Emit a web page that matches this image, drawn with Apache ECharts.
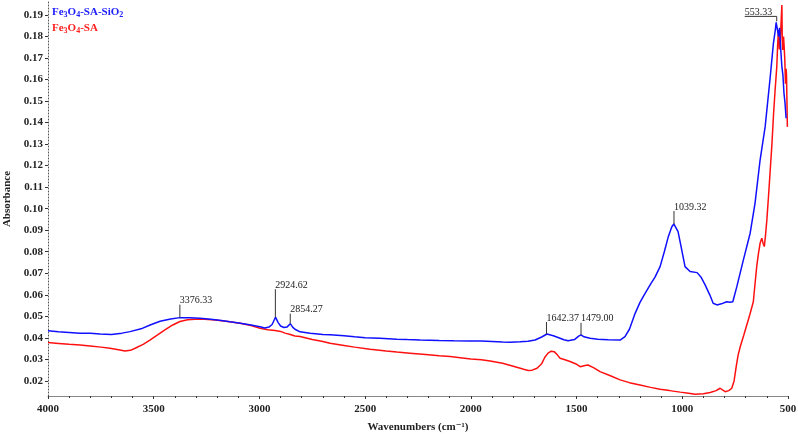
<!DOCTYPE html>
<html><head><meta charset="utf-8">
<script src="https://cdn.jsdelivr.net/npm/echarts@6/dist/echarts.min.js"></script>
<style>html,body{margin:0;padding:0;background:#fff}#c{width:798px;height:435px}</style>
</head><body><div id="c"></div>
<script>
const yTicks = [0.02,0.03,0.04,0.05,0.06,0.07,0.08,0.09,0.10,0.11,0.12,0.13,0.14,0.15,0.16,0.17,0.18,0.19];
const xTicks = [4000,3500,3000,2500,2000,1500,1000,500];

const blueSpectrum = [[4000,0.0433],[3950,0.0428],[3900,0.0425],[3850,0.0422],[3800,0.0421],[3754,0.0418],[3700,0.0416],[3650,0.0422],[3612,0.0429],[3560,0.0442],[3517,0.0460],[3470,0.0477],[3420,0.0488],[3376,0.0494],[3330,0.0494],[3281,0.0491],[3230,0.0487],[3180,0.0481],[3139,0.0475],[3090,0.0468],[3040,0.0460],[2997,0.0452],[2975,0.0446],[2955,0.0450],[2940,0.0462],[2924,0.0496],[2912,0.0472],[2900,0.0455],[2884,0.0448],[2870,0.0450],[2854,0.0466],[2843,0.0450],[2832,0.0440],[2808,0.0428],[2760,0.0422],[2700,0.0416],[2666,0.0414],[2600,0.0410],[2550,0.0405],[2500,0.0401],[2430,0.0398],[2350,0.0394],[2300,0.0392],[2240,0.0390],[2150,0.0388],[2080,0.0387],[2004,0.0386],[1950,0.0385],[1900,0.0383],[1850,0.0381],[1815,0.0380],[1767,0.0382],[1730,0.0384],[1696,0.0390],[1665,0.0404],[1640,0.0418],[1610,0.0410],[1578,0.0398],[1560,0.0391],[1540,0.0387],[1510,0.0392],[1490,0.0408],[1479,0.0414],[1465,0.0405],[1436,0.0398],[1400,0.0394],[1350,0.0391],[1294,0.0390],[1271,0.0406],[1250,0.0440],[1223,0.0514],[1200,0.0565],[1176,0.0607],[1150,0.0650],[1129,0.0682],[1105,0.0731],[1085,0.0800],[1067,0.0867],[1050,0.0915],[1040,0.0929],[1020,0.0893],[1005,0.0820],[987,0.0731],[963,0.0708],[930,0.0703],[910,0.0680],[892,0.0646],[870,0.0600],[854,0.0561],[836,0.0553],[815,0.0558],[790,0.0568],[775,0.0565],[761,0.0568],[742,0.0638],[711,0.0762],[679,0.0886],[656,0.1025],[632,0.1226],[608,0.1381],[584,0.1613],[569,0.1768],[560,0.1830],[556,0.1865],[553,0.1870],[548,0.1820],[545,0.1800],[540,0.1840],[535,0.1750],[529,0.1660],[524,0.1620],[519,0.1536],[514,0.1490],[509,0.1420]];

const redSpectrum = [[4000,0.0378],[3950,0.0374],[3900,0.0370],[3849,0.0367],[3800,0.0362],[3750,0.0357],[3707,0.0352],[3660,0.0344],[3636,0.0339],[3610,0.0342],[3588,0.0352],[3550,0.0370],[3518,0.0390],[3480,0.0415],[3447,0.0437],[3410,0.0460],[3376,0.0476],[3340,0.0484],[3305,0.0487],[3260,0.0486],[3210,0.0483],[3150,0.0476],[3092,0.0468],[3040,0.0457],[2997,0.0445],[2960,0.0438],[2926,0.0434],[2900,0.0430],[2879,0.0422],[2854,0.0416],[2832,0.0409],[2808,0.0406],[2750,0.0392],[2700,0.0383],[2666,0.0375],[2600,0.0365],[2550,0.0357],[2477,0.0347],[2400,0.0339],[2350,0.0334],[2288,0.0329],[2200,0.0322],[2150,0.0317],[2098,0.0313],[2050,0.0308],[2000,0.0302],[1950,0.0298],[1909,0.0293],[1850,0.0282],[1791,0.0266],[1750,0.0254],[1729,0.0248],[1710,0.0250],[1687,0.0259],[1665,0.0280],[1650,0.0310],[1635,0.0329],[1620,0.0338],[1606,0.0336],[1590,0.0320],[1578,0.0305],[1555,0.0298],[1531,0.0290],[1505,0.0280],[1483,0.0266],[1460,0.0272],[1446,0.0274],[1420,0.0262],[1389,0.0243],[1340,0.0224],[1294,0.0205],[1250,0.0192],[1200,0.0181],[1150,0.0170],[1105,0.0161],[1060,0.0155],[1010,0.0148],[970,0.0143],[939,0.0138],[900,0.0140],[868,0.0146],[840,0.0155],[821,0.0166],[810,0.0158],[797,0.0150],[780,0.0155],[766,0.0166],[755,0.0200],[745,0.0266],[736,0.0320],[726,0.0359],[710,0.0410],[695,0.0460],[680,0.0510],[664,0.0568],[656,0.0650],[648,0.0731],[640,0.0790],[632,0.0839],[624,0.0863],[618,0.0840],[612,0.0824],[606,0.0880],[600,0.0948],[592,0.1060],[584,0.1180],[576,0.1300],[569,0.1428],[561,0.1550],[553,0.1660],[549,0.1760],[545,0.1830],[541,0.1740],[537,0.1770],[533,0.1860],[529,0.1946],[527,0.1780],[525,0.1737],[521,0.1800],[518,0.1750],[515,0.1690],[512,0.1580],[509,0.1650],[507,0.1620],[505,0.1500],[503,0.1380]];

const peakWavenumbers = [3376.33, 2924.62, 2854.27, 1642.37, 1479.00, 1039.32, 553.33];
const peakLabels = ['3376.33','2924.62','2854.27','1642.37','1479.00','1039.32','553.33'];

// leader styling (pixels)
const leaderLen = [13, 28, 10, 12, 12, 13, 5];
const hookLeft = [0, 0, 0, 0, 0, 0, 32];

function nearestY(data, wn){
  let best = data[0], bd = Infinity;
  for (const p of data){ const d = Math.abs(p[0]-wn); if (d < bd){bd = d; best = p;} }
  return best[1];
}
const annData = peakWavenumbers.map((w,i)=>[w, nearestY(blueSpectrum, w), i]);

const chart = echarts.init(document.getElementById('c'));
const serif = '"Liberation Serif", "DejaVu Serif", serif';
function legendRich(color){
  return {
    n: {fontFamily: serif, fontSize: 11, fontWeight: 'bold', color: color, lineHeight: 12, verticalAlign: 'top'},
    s: {fontFamily: serif, fontSize: 8, fontWeight: 'bold', color: color, lineHeight: 8, padding: [7,0,0,0], verticalAlign: 'bottom'}
  };
}
chart.setOption({
  animation: false,
  backgroundColor: '#fff',
  title: [
    {left: 52, top: 7, padding: 0, text: '{n|Fe}{s|3}{n|O}{s|4}{n|-SA-SiO}{s|2}', textStyle: {rich: legendRich('#2020ff')}},
    {left: 52, top: 23, padding: 0, text: '{n|Fe}{s|3}{n|O}{s|4}{n|-SA}', textStyle: {rich: legendRich('#ff2020')}}
  ],
  grid: {left: 48, right: 10, top: 2, bottom: 39, containLabel: false, outerBoundsMode: 'none'},
  xAxis: {
    type: 'value', inverse: true, min: 500, max: 4000, interval: 500,
    name: 'Wavenumbers (cm⁻¹)', nameLocation: 'middle', nameGap: 26,
    nameTextStyle: {fontFamily: serif, fontSize: 11, fontWeight: 'bold', color: '#222'},
    axisLine: {lineStyle: {color: '#888', width: 1}},
    axisTick: {length: 3, lineStyle: {color: '#333'}},
    minorTick: {show: true, splitNumber: 5, length: 2, lineStyle: {color: '#333'}},
    splitLine: {show: false},
    axisLabel: {fontFamily: serif, fontSize: 11, fontWeight: 'bold', color: '#222', margin: 8, formatter: v => String(v)}
  },
  yAxis: {
    type: 'value', min: 0.013, max: 0.196,
    name: 'Absorbance', nameLocation: 'middle', nameGap: 33, nameRotate: 90,
    nameTextStyle: {fontFamily: serif, fontSize: 11, fontWeight: 'bold', color: '#222'},
    axisLine: {show: true, lineStyle: {color: '#555', type: [1,2], width: 1}},
    axisTick: {show: true, length: 3, customValues: yTicks, lineStyle: {color: '#333'}},
    splitLine: {show: false},
    axisLabel: {fontFamily: serif, fontSize: 11, fontWeight: 'bold', color: '#222', margin: 5,
      customValues: yTicks, formatter: v => v.toFixed(2)}
  },
  series: [
    {type: 'line', data: redSpectrum, showSymbol: false, symbol: 'none', lineStyle: {color: '#ff1010', width: 1.5}, z: 2},
    {type: 'line', data: blueSpectrum, showSymbol: false, symbol: 'none', lineStyle: {color: '#1010ff', width: 1.5}, z: 3},
    {type: 'custom', data: annData, z: 5, clip: false,
     renderItem: function(params, api){
       const i = api.value(2);
       const p = api.coord([api.value(0), api.value(1)]);
       const top = p[1] - leaderLen[i];
       const children = [];
       const ls = {stroke: '#333', lineWidth: 1};
       children.push({type: 'line', shape: {x1: p[0], y1: p[1], x2: p[0], y2: top}, style: ls});
       let tx = p[0];
       if (hookLeft[i] > 0){
         tx = p[0] - hookLeft[i];
         children.push({type: 'line', shape: {x1: p[0], y1: top, x2: tx, y2: top}, style: ls});
       }
       children.push({type: 'text', x: tx, y: top + 1, style: {text: peakLabels[i], fontFamily: serif, fontSize: 10, fill: '#222', align: 'left', verticalAlign: 'bottom'}});
       return {type: 'group', children: children};
     }}
  ]
});
</script></body></html>
